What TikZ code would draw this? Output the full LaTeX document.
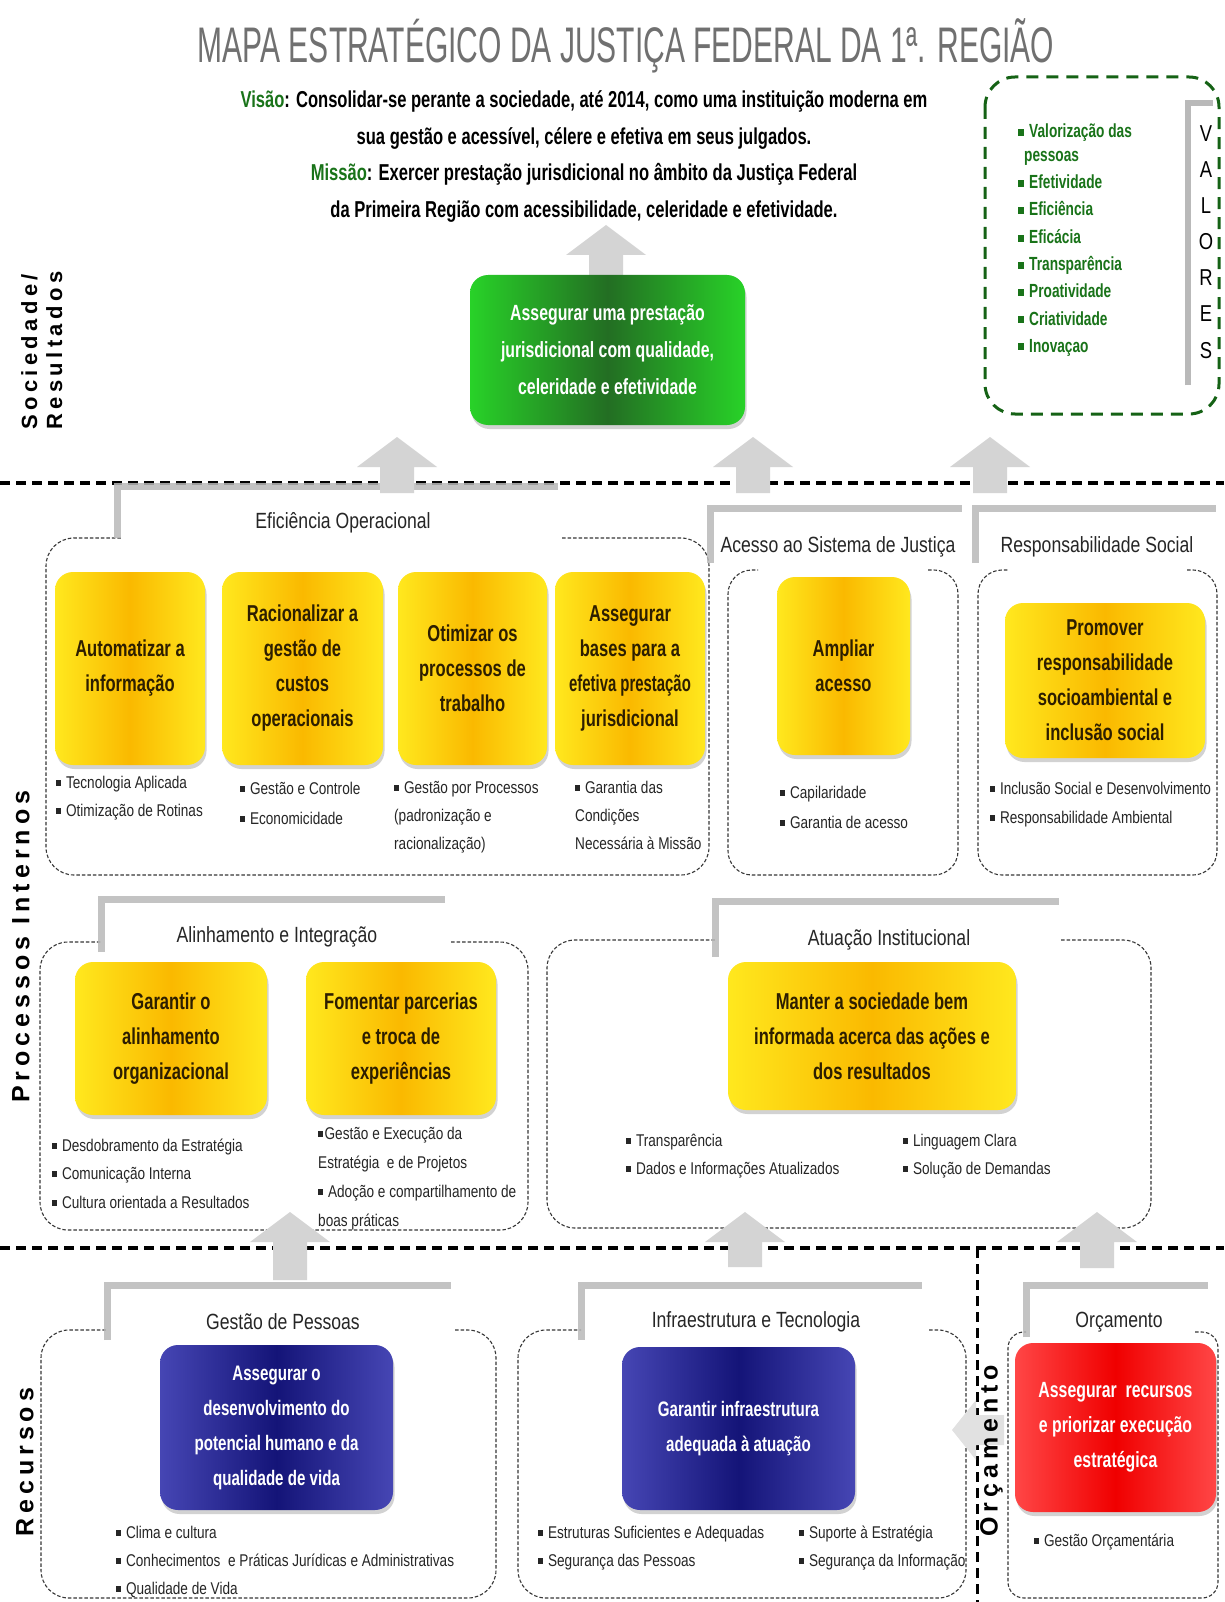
\documentclass[tikz,border=0pt]{standalone}
\usepackage{fontspec}
\setmainfont{Liberation Sans}
\newfontfamily\cnd[FakeStretch=0.8]{Liberation Sans}
\newfontfamily\cndb[FakeStretch=0.72]{Liberation Sans}
\newfontfamily\ttlf[FakeStretch=0.6]{Liberation Sans}
\newfontfamily\sidef[LetterSpace=20]{Liberation Sans}
\usetikzlibrary{shadows}
\definecolor{ylo}{RGB}{255,232,30}
\definecolor{ymid}{RGB}{250,185,0}
\definecolor{bmid}{RGB}{20,20,120}
\definecolor{bedge}{RGB}{70,70,180}
\definecolor{gmid}{RGB}{35,110,35}
\definecolor{gedge}{RGB}{40,210,40}
\definecolor{rmid}{RGB}{240,0,0}
\definecolor{redge}{RGB}{255,70,70}
\definecolor{vgreen}{RGB}{25,115,25}
\definecolor{barc}{RGB}{185,185,185}
\definecolor{arrc}{RGB}{212,212,212}
\definecolor{dashc}{RGB}{55,55,55}
\definecolor{ytext}{RGB}{45,30,0}
\definecolor{ttlc}{RGB}{112,112,112}
\tikzset{
 glossy/.style={rounded corners=18, align=center, inner sep=0, drop shadow={opacity=0.35,shadow xshift=1.5pt,shadow yshift=-4pt}},
 ybox/.style={glossy, left color=ylo, right color=ylo, middle color=ymid, text=ytext, font=\cndb\bfseries\fontsize{23}{35}\selectfont},
 bbox/.style={glossy, left color=bedge, right color=bedge, middle color=bmid, text=white, font=\cndb\bfseries\fontsize{21}{35}\selectfont},
 gbx/.style={glossy, left color=gedge, right color=gedge, middle color=gmid, text=white, font=\cndb\bfseries\fontsize{22}{37}\selectfont},
 rbox/.style={glossy, left color=redge, right color=redge, middle color=rmid, text=white, font=\cndb\bfseries\fontsize{22}{35}\selectfont},
 dbox/.style={draw=dashc, line width=1.1, dash pattern=on 3.5 off 2, rounded corners=28},
 sepline/.style={line width=4.5, dash pattern=on 10 off 6},
 bar/.style={draw=barc, line width=7, opacity=0.85},
 sect/.style={font=\cnd\fontsize{22}{26}\selectfont, text=black!85, inner sep=0},
 btxt/.style={font=\cnd\fontsize{17}{20}\selectfont, text=black!85, inner sep=0},
 vtxt/.style={font=\cndb\bfseries\fontsize{19}{22}\selectfont, text=vgreen, inner sep=0, anchor=base west},
 side/.style={font=\sidef\bfseries\fontsize{25}{27}\selectfont, rotate=90, anchor=north west, inner sep=0, align=left},
 top/.style={font=\cndb\bfseries\fontsize{23}{25}\selectfont, inner sep=0, anchor=base},
}
\newcommand\bul{\rule[0.12em]{0.3em}{0.36em}\hspace{0.28em}}
\newcommand\blockup[3]{\fill[arrc] (#1,#2) -- (#1+40,#2+30) -- (#1+17,#2+30) -- (#1+17,#3) -- (#1-17,#3) -- (#1-17,#2+30) -- (#1-40,#2+30) -- cycle;}
\newcommand\blines[5]{\foreach \t [count=\i from 0] in {#5}{\node[btxt,anchor=base west] (#1\i) at (#2,{#3+6+\i*#4}) {\t};}}
\newcommand\gbox[7]{\node[#1, minimum width={#5-#3}, minimum height={#6-#4}] (#2) at ({(#3+#5)/2},{(#4+#6)/2}) {#7};}
\begin{document}
\begin{tikzpicture}[x=1pt,y=-1pt]
\useasboundingbox (0,0) rectangle (1224,1602);
\fill[white] (0,0) rectangle (1224,1602);
% separators
\draw[sepline] (0,483) -- (1224,483);
\draw[sepline] (0,1248) -- (1224,1248);
\draw[line width=3, dash pattern=on 10 off 6] (977,1248) -- (977,1602);
% dashed groups
\draw[dbox] (562,538) -- (709,538) -- (709,875) -- (46,875) -- (46,538) -- (121,538);
\draw[dbox,rounded corners=24] (928,570) -- (958,570) -- (958,875) -- (728,875) -- (728,570) -- (758,570);
\draw[dbox,rounded corners=24] (1187,570) -- (1217,570) -- (1217,875) -- (978,875) -- (978,570) -- (1008,570);
\draw[dbox] (451,942) -- (528,942) -- (528,1230) -- (40,1230) -- (40,942) -- (101,942);
\draw[dbox] (1061,940) -- (1151,940) -- (1151,1228) -- (547,1228) -- (547,940) -- (715,940);
\draw[dbox] (455,1330) -- (496,1330) -- (496,1598) -- (41,1598) -- (41,1330) -- (107,1330);
\draw[dbox] (929,1330) -- (966,1330) -- (966,1598) -- (518,1598) -- (518,1330) -- (581,1330);
\draw[dbox,rounded corners=16] (1195,1332) -- (1218,1332) -- (1218,1598) -- (1008,1598) -- (1008,1332) -- (1026,1332);
% values box
\draw[vgreen!85!black, line width=3, dash pattern=on 12 off 8, rounded corners=30] (985,77) rectangle (1219,414);
\draw[barc, line width=6] (1188,385) -- (1188,103) -- (1213,103);
% gray L bars
\draw[bar] (117,538) -- (117,486) -- (558,486);
\draw[bar] (710,563) -- (710,508) -- (962,508);
\draw[bar] (975,563) -- (975,508) -- (1216,508);
\draw[bar] (101,952) -- (101,899) -- (445,899);
\draw[bar] (715,957) -- (715,901) -- (1059,901);
\draw[bar] (107,1340) -- (107,1285) -- (451,1285);
\draw[bar] (581,1340) -- (581,1285) -- (922,1285);
\draw[bar] (1026,1337) -- (1026,1285) -- (1208,1285);
% block arrows
\blockup{606}{225}{277}
\blockup{397}{437}{493}
\blockup{753}{437}{493}
\blockup{990}{437}{493}
\blockup{290}{1212}{1280}
\blockup{745}{1212}{1267}
\blockup{1097}{1212}{1268}
\fill[arrc!70!white] (952,1430) -- (976,1400) -- (976,1415) -- (1004,1415) -- (1004,1445) -- (976,1445) -- (976,1460) -- cycle;
% title and texts
\node[font=\ttlf\fontsize{50}{54}\selectfont, text=ttlc, inner sep=0, anchor=base] (title) at (626,63) {MAPA ESTRATÉGICO DA JUSTIÇA FEDERAL DA 1ª. REGIÃO};
\node[top] (vis1) at (584,108) {{\color{vgreen}Visão}: Consolidar-se perante a sociedade, até 2014, como uma instituição moderna em};
\node[top] (vis2) at (584,145) {sua gestão e acessível, célere e efetiva em seus julgados.};
\node[top] (mis1) at (584,181) {{\color{vgreen}Missão}: Exercer prestação jurisdicional no âmbito da Justiça Federal};
\node[top] (mis2) at (584,218) {da Primeira Região com acessibilidade, celeridade e efetividade.};
% values
\node[vtxt] (v1) at (1018,138) {\bul Valorização das};
\node[vtxt] (v2) at (1024,162) {pessoas};
\node[vtxt] (v3) at (1018,189) {\bul Efetividade};
\node[vtxt] (v4) at (1018,216) {\bul Eficiência};
\node[vtxt] (v5) at (1018,244) {\bul Eficácia};
\node[vtxt] (v6) at (1018,271) {\bul Transparência};
\node[vtxt] (v7) at (1018,298) {\bul Proatividade};
\node[vtxt] (v8) at (1018,325) {\bul Criatividade};
\node[vtxt] (v9) at (1018,352) {\bul Inovaçao};
\foreach \l [count=\i from 0] in {V,A,L,O,R,E,S}
  \node[font=\cnd\fontsize{23}{25}\selectfont, inner sep=0, anchor=base] (val\i) at (1206,{142+\i*36}) {\l};
% side labels
\node[side, font=\sidef\bfseries\fontsize{22}{25}\selectfont] (soc) at (21,430) {Sociedade/\\Resultados};
\node[side] (proc) at (12,1103) {Processos Internos};
\node[side] (rec) at (16,1537) {Recursos};
\node[side] (orcl) at (980,1537) {Orçamento};
% section labels
\node[sect] (l1) at (343,523) {Eficiência Operacional};
\node[sect] (l2) at (838,547) {Acesso ao Sistema de Justiça};
\node[sect] (l3) at (1097,547) {Responsabilidade Social};
\node[sect] (l4) at (277,937) {Alinhamento e Integração};
\node[sect] (l5) at (889,940) {Atuação Institucional};
\node[sect] (l6) at (283,1322) {Gestão de Pessoas};
\node[sect] (l7) at (756,1322) {Infraestrutura e Tecnologia};
\node[sect] (l8) at (1119,1322) {Orçamento};
% boxes
\gbox{gbx}{main}{470}{275}{745}{425}{Assegurar uma prestação\\jurisdicional com qualidade,\\celeridade e efetividade}
\gbox{ybox}{y1}{55}{572}{205}{765}{Automatizar a\\informação}
\gbox{ybox}{y2}{222}{572}{383}{765}{Racionalizar a\\gestão de\\custos\\operacionais}
\gbox{ybox}{y3}{398}{572}{547}{765}{Otimizar os\\processos de\\trabalho}
\gbox{ybox}{y4}{555}{572}{705}{765}{Assegurar\\bases para a\\\scalebox{0.9}[1]{efetiva prestação}\\jurisdicional}
\gbox{ybox}{y5}{777}{577}{910}{755}{Ampliar\\acesso}
\gbox{ybox}{y6}{1005}{603}{1205}{758}{Promover\\responsabilidade\\socioambiental e\\inclusão social}
\gbox{ybox}{y7}{75}{962}{267}{1115}{Garantir o\\alinhamento\\organizacional}
\gbox{ybox}{y8}{306}{962}{496}{1115}{Fomentar parcerias\\e troca de\\experiências}
\gbox{ybox}{y9}{728}{962}{1016}{1110}{Manter a sociedade bem\\informada acerca das ações e\\dos resultados}
\gbox{bbox}{b1}{160}{1345}{393}{1510}{Assegurar o\\desenvolvimento do\\potencial humano e da\\qualidade de vida}
\gbox{bbox}{b2}{622}{1347}{855}{1510}{Garantir infraestrutura\\adequada à atuação}
\gbox{rbox}{r1}{1015}{1343}{1216}{1512}{Assegurar\ \ recursos\\e priorizar execução\\estratégica}
% bullets
\blines{ta}{56}{782}{28}{{\bul Tecnologia Aplicada},{\bul Otimização de Rotinas}}
\blines{tb}{240}{788}{30}{{\bul Gestão e Controle},{\bul Economicidade}}
\blines{tc}{394}{787}{28}{{\bul Gestão por Processos},{(padronização e},{racionalização)}}
\blines{td}{575}{787}{28}{{\bul Garantia das},{Condições},{Necessária à Missão}}
\blines{te}{780}{792}{30}{{\bul Capilaridade},{\bul Garantia de acesso}}
\blines{tf}{990}{788}{29}{{\bul Inclusão Social e Desenvolvimento},{\bul Responsabilidade Ambiental}}
\blines{tg}{52}{1145}{28.5}{{\bul Desdobramento da Estratégia},{\bul Comunicação Interna},{\bul Cultura orientada a Resultados}}
\blines{th}{318}{1133}{29}{{\bul\hspace{-0.2em}Gestão e Execução da},{Estratégia\ \ e de Projetos},{\bul Adoção e compartilhamento de},{boas práticas}}
\blines{ti}{626}{1140}{28}{{\bul Transparência},{\bul Dados e Informações Atualizados}}
\blines{tj}{903}{1140}{28}{{\bul Linguagem Clara},{\bul Solução de Demandas}}
\blines{tk}{116}{1532}{28}{{\bul Clima e cultura},{\bul Conhecimentos\ \ e Práticas Jurídicas e Administrativas},{\bul Qualidade de Vida}}
\blines{tl}{538}{1532}{28}{{\bul Estruturas Suficientes e Adequadas},{\bul Segurança das Pessoas}}
\blines{tm}{799}{1532}{28}{{\bul Suporte à Estratégia},{\bul Segurança da Informação}}
\blines{tn}{1034}{1540}{28}{{\bul Gestão Orçamentária}}
\end{tikzpicture}
\end{document}
